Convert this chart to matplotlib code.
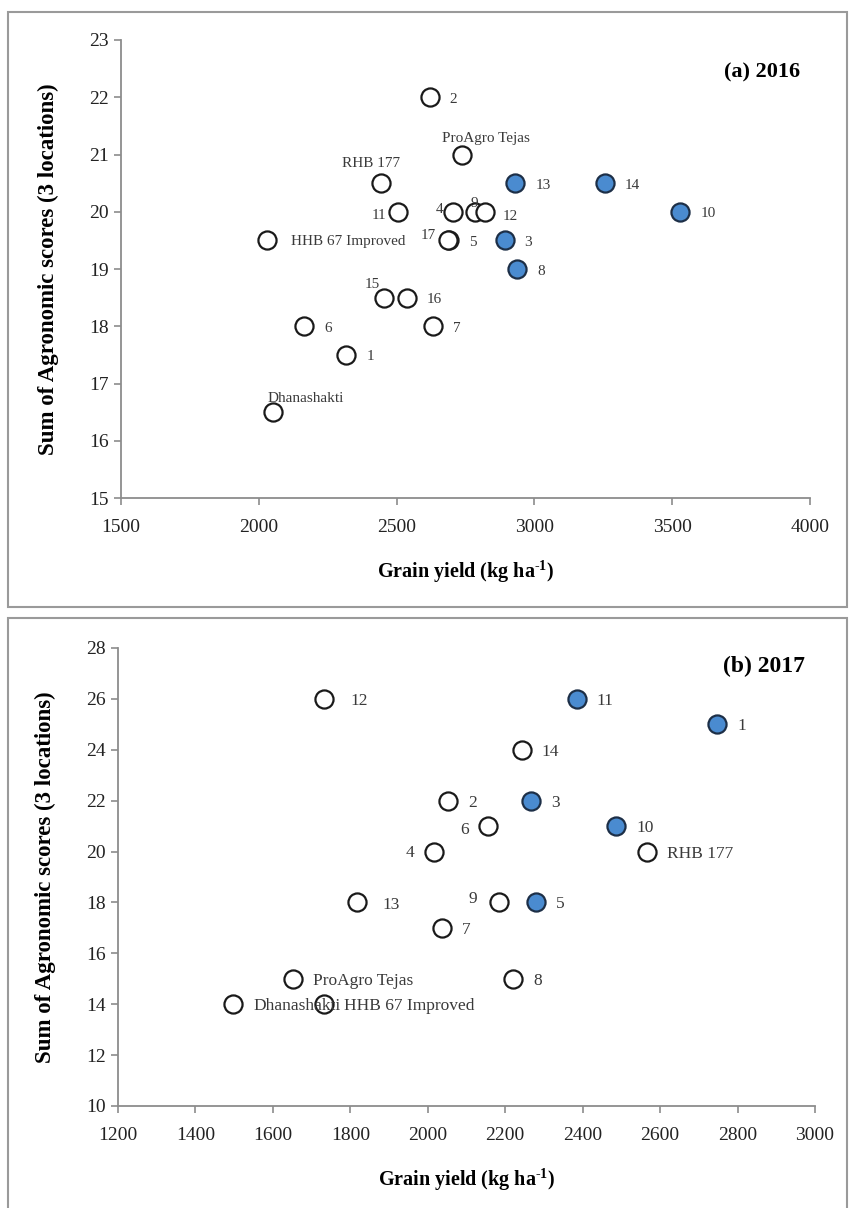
import matplotlib
matplotlib.use("Agg")
import matplotlib.pyplot as plt
from matplotlib.patches import Rectangle

plt.rcParams['font.family'] = ['Liberation Serif', 'DejaVu Serif']
plt.rcParams['mathtext.fontset'] = 'custom'
plt.rcParams['mathtext.rm'] = 'Liberation Serif:bold'
plt.rcParams['mathtext.bf'] = 'Liberation Serif:bold'

# (a) 2016
names_2016 = ["1", "2", "3", "4", "5", "6", "7", "8", "9", "10", "11", "12", "13", "14",
              "15", "16", "17", "RHB 177", "ProAgro Tejas", "HHB 67 Improved", "Dhanashakti"]
yield_2016 = [2318, 2620, 2892, 2705, 2690, 2164, 2633, 2937, 2786, 3530, 2505, 2820, 2931, 3255,
              2454, 2536, 2688, 2445, 2737, 2028, 2051]
score_2016 = [17.5, 22.0, 19.5, 20.0, 19.5, 18.0, 18.0, 19.0, 20.0, 20.0, 20.0, 20.0, 20.5, 20.5,
              18.5, 18.5, 19.5, 20.5, 21.0, 19.5, 16.5]
selected_2016 = ["3", "8", "10", "13", "14"]

# (b) 2017
names_2017 = ["1", "2", "3", "4", "5", "6", "7", "8", "9", "10", "11", "12", "13", "14",
              "RHB 177", "ProAgro Tejas", "HHB 67 Improved", "Dhanashakti"]
yield_2017 = [2748, 2052, 2267, 2015, 2280, 2155, 2036, 2221, 2185, 2487, 2385, 1733, 1816, 2243,
              2565, 1651, 1731, 1497]
score_2017 = [25, 22, 22, 20, 18, 21, 17, 15, 18, 21, 26, 26, 18, 24, 20, 15, 14, 14]
selected_2017 = ["1", "3", "5", "10", "11"]

W, H = 849, 1208
BLUE = "#4a8bd0"
GREY = "#8c8c8c"
TXT = "#3a3a3a"

# label placement in pixels: (dx, dy, ha); default is to the right
offsets_2016 = {
    "4": (-10, 2, "right"), "9": (-1, 8, "center"), "11": (-12, -4, "right"),
    "12": (18, -5, "left"), "15": (-4, 13, "right"), "17": (-12, 5, "right"),
    "RHB 177": (-10, 20, "center"), "ProAgro Tejas": (24, 16, "center"),
    "HHB 67 Improved": (24, -1, "left"), "Dhanashakti": (-5, 14, "left"),
}
offsets_2017 = {
    "6": (-19, -4, "right"), "4": (-19, -1, "right"), "9": (-22, 3, "right"),
    "12": (26, -2, "left"), "13": (26, -3, "left"),
}


def px_rect(left, top, right, bottom):
    return [left / W, 1 - bottom / H, (right - left) / W, (bottom - top) / H]


def draw_panel(ax, names, xs, ys, selected, offsets, label_size):
    for name, x, y in zip(names, xs, ys):
        filled = name in selected
        ax.scatter(x, y, s=170, facecolor=BLUE if filled else "white",
                   edgecolor="#1d2f47" if filled else "#1a1a1a", linewidth=1.6,
                   zorder=3, clip_on=False)
        dx, dy, ha = offsets.get(name, (20, -2, "left"))
        ax.annotate(name, (x, y), xytext=(dx * 0.72, dy * 0.72), textcoords="offset points",
                    ha=ha, va="center", fontsize=label_size, color=TXT, zorder=4)
    for side in ["top", "right"]:
        ax.spines[side].set_visible(False)
    for side in ["left", "bottom"]:
        ax.spines[side].set_color(GREY)
        ax.spines[side].set_linewidth(1.3)
    ax.tick_params(direction="out", length=5, width=1.2, color=GREY,
                   labelsize=14, labelcolor="#222222")
    ax.tick_params(axis="x", pad=10)
    ax.set_ylabel("Sum of Agronomic scores (3 locations)", fontsize=16.5,
                  fontweight="bold", labelpad=22)
    ax.set_xlabel("Grain yield (kg ha$^{\\text{-1}}$)", fontsize=14.5,
                  fontweight="bold", labelpad=16)


fig = plt.figure(figsize=(W / 100, H / 100), dpi=100)
fig.patches.append(Rectangle((8 / W, 1 - 607 / H), 839 / W, 595 / H, transform=fig.transFigure,
                             fill=False, edgecolor="#9a9a9a", linewidth=1.5))
fig.patches.append(Rectangle((8 / W, 1 - 1212 / H), 839 / W, 594 / H, transform=fig.transFigure,
                             fill=False, edgecolor="#9a9a9a", linewidth=1.5))

ax1 = fig.add_axes(px_rect(121, 40, 810, 498))
draw_panel(ax1, names_2016, yield_2016, score_2016, selected_2016, offsets_2016, 11)
ax1.set_xlim(1500, 4000)
ax1.set_ylim(15, 23)
ax1.set_xticks(range(1500, 4001, 500))
ax1.set_yticks(range(15, 24))
ax1.text(0.985, 0.93, "(a) 2016", transform=ax1.transAxes, ha="right", va="center",
         fontsize=16, fontweight="bold")

ax2 = fig.add_axes(px_rect(118, 648, 815, 1106))
draw_panel(ax2, names_2017, yield_2017, score_2017, selected_2017, offsets_2017, 12.5)
ax2.set_xlim(1200, 3000)
ax2.set_ylim(10, 28)
ax2.set_xticks(range(1200, 3001, 200))
ax2.set_yticks(range(10, 29, 2))
ax2.text(0.985, 0.96, "(b) 2017", transform=ax2.transAxes, ha="right", va="center",
         fontsize=17, fontweight="bold")

fig.savefig("out.png", dpi=100)
